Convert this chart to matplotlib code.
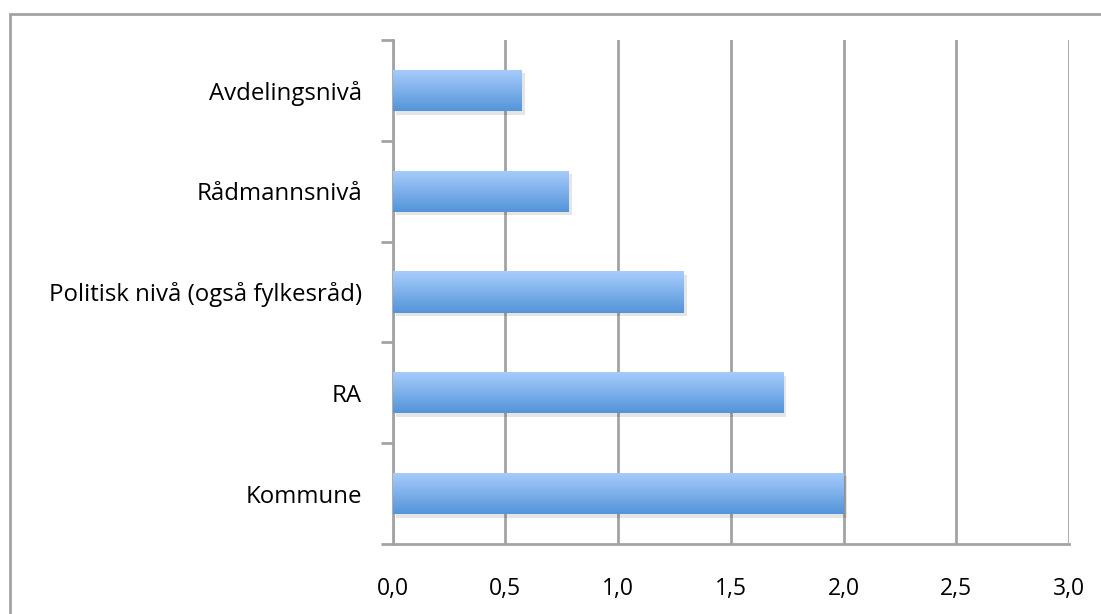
import matplotlib
matplotlib.use("Agg")
import matplotlib.pyplot as plt
import numpy as np
from matplotlib.patches import Rectangle
from matplotlib.colors import LinearSegmentedColormap
import matplotlib.patheffects as pe

categories = ["Kommune", "RA", "Politisk nivå (også fylkesråd)", "Rådmannsnivå", "Avdelingsnivå"]
values = [2.0, 1.73, 1.29, 0.78, 0.57]
xticks = [0.0, 0.5, 1.0, 1.5, 2.0, 2.5, 3.0]
xtick_labels = ["0,0", "0,5", "1,0", "1,5", "2,0", "2,5", "3,0"]

plt.rcParams['font.family'] = ['Open Sans', 'DejaVu Sans']

W, H = 1101, 614
fig = plt.figure(figsize=(W/100, H/100), dpi=100)
ax = fig.add_axes([392.5/W, 1 - 544/H, (1069 - 392.5)/W, (544 - 40)/H])

gray = "#a3a3a3"
bar_h = 0.41
y = np.arange(len(categories))

ax.set_xlim(0, 3.0)
ax.set_ylim(-0.5, len(categories) - 0.5)
ax.set_xticks(xticks)
ax.set_xticklabels(xtick_labels, fontsize=16.5)
ax.set_yticks(y)
ax.set_yticklabels(categories, fontsize=17.3)
for t in ax.get_yticklabels():
    t.set_va('center_baseline')
ax.tick_params(axis='y', length=0, pad=22)
ax.tick_params(axis='x', length=0, pad=24)
ax.set_yticks(np.arange(-0.5, len(categories)), minor=True)
ax.tick_params(axis='y', which='minor', length=9, width=2.0, color=gray)
ax.set_xticks(xticks, minor=True)
ax.tick_params(axis='x', which='minor', length=7, width=2.0, color=gray)

ax.grid(axis='x', color=gray, linewidth=2.0, zorder=0)
ax.set_axisbelow(True)
for s in ['top', 'right']:
    ax.spines[s].set_visible(False)
for s in ['left', 'bottom']:
    ax.spines[s].set_color(gray)
    ax.spines[s].set_linewidth(2.0)

cmap = LinearSegmentedColormap.from_list("g", ["#5494d8", "#a8cdfd"])
grad = np.linspace(0, 1, 256).reshape(-1, 1)

bars = ax.barh(y, values, height=bar_h, color="#7fb0ec", zorder=2,
               path_effects=[pe.SimplePatchShadow(offset=(2.5, -2.5), shadow_rgbFace="#000000", alpha=0.10), pe.Normal()])
for b in bars:
    x0, y0, w, h = b.get_x(), b.get_y(), b.get_width(), b.get_height()
    im = ax.imshow(grad, extent=[x0, x0 + w, y0, y0 + h], origin='lower', cmap=cmap,
                   aspect='auto', zorder=3, interpolation='bilinear')
    im.set_clip_path(b)

ax.set_xlim(0, 3.0)
ax.set_ylim(-0.5, len(categories) - 0.5)

border = Rectangle((9.5/W, -0.1), 1.2, 1 - 13.5/H + 0.1, transform=fig.transFigure,
                   fill=False, edgecolor=gray, linewidth=2.0, zorder=10)
fig.patches.append(border)

fig.savefig("out.png", dpi=100)
